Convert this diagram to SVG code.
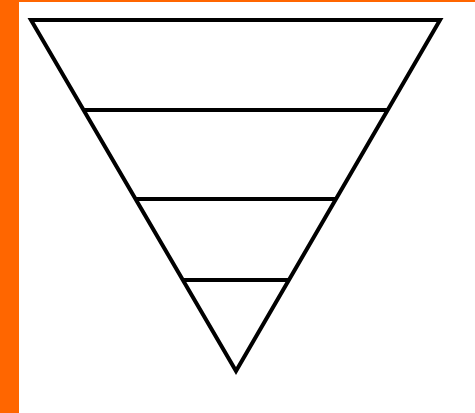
<svg xmlns="http://www.w3.org/2000/svg" width="475" height="413" viewBox="0 0 475 413">
<style>.s{fill:none;stroke:#000;stroke-width:4;stroke-linejoin:miter}</style>
<rect width="475" height="413" fill="#fff"/>
<rect x="0" y="0" width="475" height="2" fill="#ff6600"/>
<rect x="0" y="0" width="19" height="413" fill="#ff6600"/>
<g id="funnel">
<polygon class="s" points="31,20 440,20 236,371"/>
</g>
<g id="connectors">
<line class="s" x1="84" y1="110" x2="387" y2="110"/>
<line class="s" x1="136" y1="199" x2="335" y2="199"/>
<line class="s" x1="183" y1="280" x2="288" y2="280"/>
</g>
</svg>
